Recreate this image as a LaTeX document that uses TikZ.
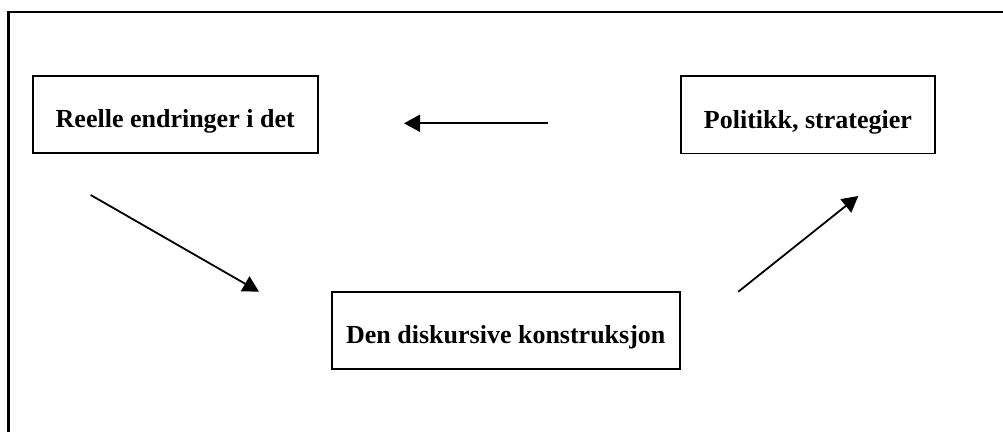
\documentclass[tikz,border=0pt]{standalone}
\usepackage{fontspec}
\setmainfont{Liberation Serif}
\usetikzlibrary{arrows.meta}
\begin{document}
\begin{tikzpicture}[x=0.5pt,y=-0.5pt,
  box/.style={draw,line width=0.9pt,inner sep=0pt,minimum height=38.8pt,
    text height=15pt,text depth=1.5pt,font=\fontsize{13}{15.6}\selectfont\bfseries},
  conn/.style={line width=0.9pt,-{Triangle[length=8pt,width=8.5pt]}},
  frame/.style={line width=1.2pt}]
\useasboundingbox (0,0) rectangle (1003,432);
\draw[frame] (8.5,432) -- (8.5,12) -- (1003,12);
\node[box,minimum width=142.5pt] (reelle) at (175.2,114.5) {Reelle endringer i det};
\node[box,minimum width=127.2pt] (politikk) at (807.9,114.7) {Politikk, strategier};
\node[box,minimum width=174.2pt] (diskurs) at (505.8,330.5) {Den diskursive konstruksjon};
\coordinate (a1s) at (547.7,123.3);
\coordinate (a1e) at (404,123.3);
\coordinate (a2s) at (90.7,195);
\coordinate (a2e) at (259,291.7);
\coordinate (a3s) at (738.3,291.7);
\coordinate (a3e) at (858.3,196);
\draw[conn] (a1s) -- (a1e);
\draw[conn] (a2s) -- (a2e);
\draw[conn] (a3s) -- (a3e);
\end{tikzpicture}
\end{document}
